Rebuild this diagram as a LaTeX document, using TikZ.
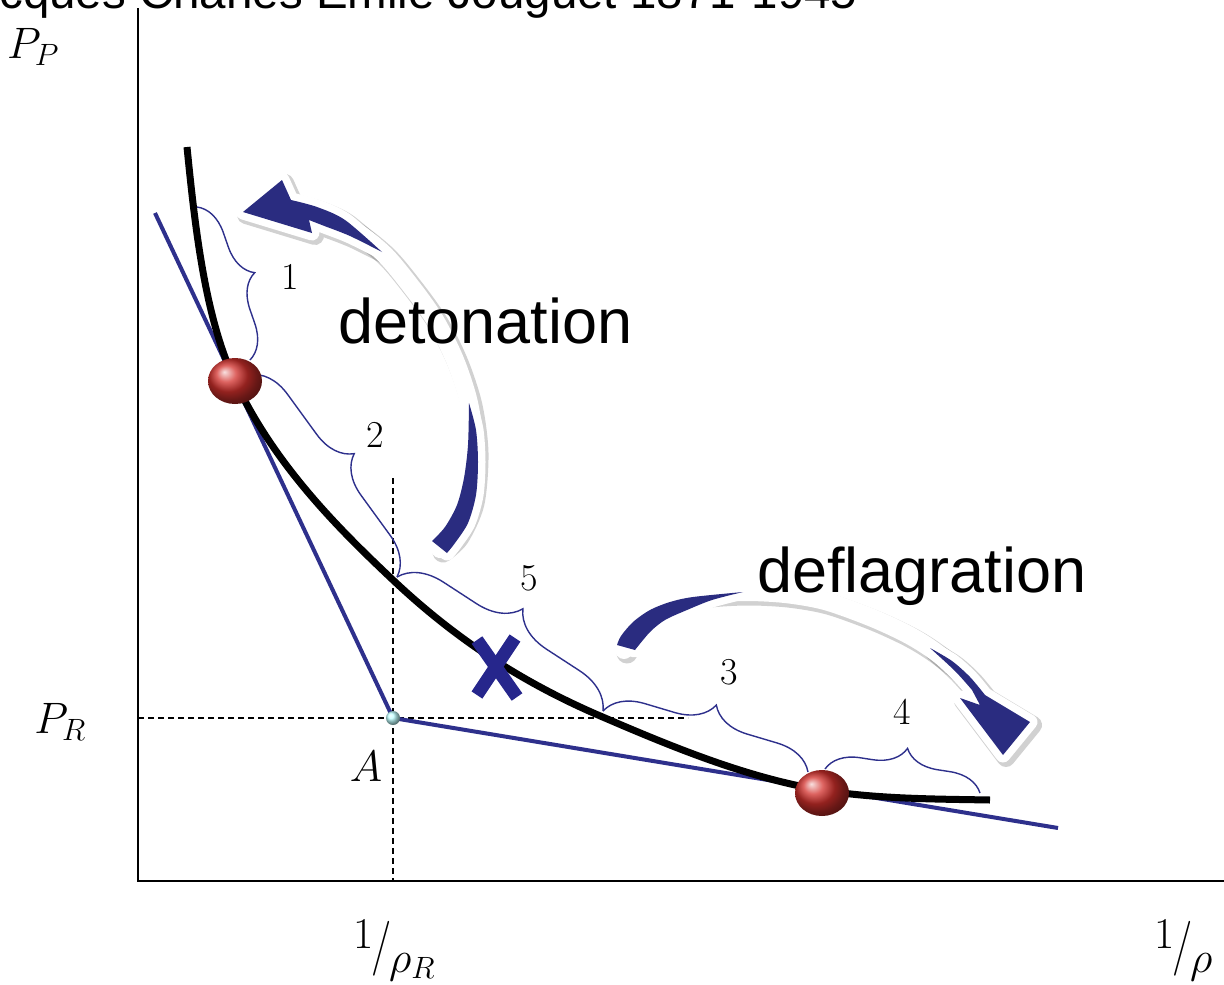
\documentclass[tikz,border=0pt]{standalone}
\usepackage{fix-cm}
\usepackage{fontspec}
\newfontfamily\arialf{Liberation Sans}
\usetikzlibrary{decorations.pathreplacing}
\definecolor{navy}{RGB}{42,44,128}
\definecolor{xblue}{RGB}{38,38,140}
\definecolor{lineblue}{RGB}{46,48,140}
\definecolor{ballred}{RGB}{210,48,44}
\begin{document}
\begin{tikzpicture}[x=1pt,y=-1pt,
  axis/.style={line width=1.8pt, black},
  guide/.style={dash pattern=on 6pt off 4pt, line width=1.3pt, black},
  tangent/.style={line width=4pt, lineblue, line join=round},
  hug/.style={line width=7pt, black},
  brc/.style={decorate, decoration={brace, amplitude=#1}, lineblue, line width=1.4pt},
  numlab/.style={font=\fontsize{38}{40}\selectfont, inner sep=0},
  mathlab/.style={font=\fontsize{44}{48}\selectfont, inner sep=0},
  bigword/.style={font=\arialf\fontsize{63}{70}\selectfont, anchor=base west, inner sep=0},
  halo/.style={white, line width=18pt, line cap=round, line join=round},
  haloshadow/.style={black, opacity=0.18, line width=21pt, line cap=round, line join=round},
  headhalo/.style={white, line width=15pt, line join=round},
  headshadow/.style={black, opacity=0.18, line width=18pt, line join=round}
]
\useasboundingbox (0,0) rectangle (1224,985);
\clip (0,0) rectangle (1224,985);
\fill[white] (0,0) rectangle (1224,985);

% title (cut off at top, as in the original slide)
\node[font=\arialf\fontsize{47.5}{52}\selectfont, anchor=base west, inner sep=0] (title) at (-51,9) {Jacques Charles Emile Jouguet 1871-1945};

% axes
\coordinate (O) at (138,881);
\coordinate (Ytop) at (138,8);
\coordinate (Xend) at (1226,881);
\draw[axis] (Ytop) -- (O) -- (Xend);

% guides
\coordinate (A) at (393,718);
\coordinate (Vtop) at (393,478);
\coordinate (Vbot) at (393,881);
\coordinate (Hleft) at (138,718);
\coordinate (Hright) at (688,718);
\draw[guide] (Vtop) -- (Vbot);
\draw[guide] (Hleft) -- (Hright);

% tangent (Rayleigh) lines
\coordinate (T1) at (155,213);
\coordinate (T2) at (1058,828);
\draw[tangent] (T1) -- (A) -- (T2);

% Hugoniot curve
\draw[hug] (187,147) .. controls (195,227) and (205,318) .. (235,381)
  .. controls (275,466) and (340,530) .. (393,580)
  .. controls (464,647) and (534,688) .. (605,718)
  .. controls (677,749) and (749,778) .. (821,790)
  .. controls (877,799) and (934,799) .. (990,800);

% braces
\coordinate (b1s) at (197,207);
\coordinate (b1e) at (250,360);
\coordinate (b2s) at (250,375);
\coordinate (b2e) at (397,577);
\coordinate (b5e) at (603,711);
\coordinate (b3e) at (808,772);
\coordinate (b4s) at (825,769);
\coordinate (b4e) at (980,793);
\draw[brc=33pt] (b1s) -- (b1e);
\draw[brc=38pt] (b2s) -- (b2e);
\draw[brc=42pt] (b2e) -- (b5e);
\draw[brc=38pt] (b5e) -- (b3e);
\draw[brc=33pt] (b4s) -- (b4e);

\node[numlab] (n1) at (290,277) {1};
\node[numlab] (n2) at (375,435) {2};
\node[numlab] (n5) at (529,578) {5};
\node[numlab] (n3) at (729,672) {3};
\node[numlab] (n4) at (902,712) {4};

% X mark
\coordinate (xa1) at (477,640);
\coordinate (xa2) at (517,697);
\coordinate (xb1) at (515,638);
\coordinate (xb2) at (477,695);
\draw[xblue, line width=13pt] (xa1) -- (xa2);
\draw[xblue, line width=13pt] (xb1) -- (xb2);

% detonation arrow
\def\detmid{plot[smooth] coordinates {(300,214) (345,225) (382,252) (410,285) (435,320) (455,360) (469,403) (475,450) (471,500) (456,534) (440,549)}}
\def\dethead{(243,212) -- (282,180) -- (291,200) -- plot[smooth] coordinates {(291,200) (317,207) (345,220) (382,252)} -- plot[smooth] coordinates {(382,252) (350,236) (327,227)} -- (309,220) -- (312,233) -- cycle}
\def\dettail{(469,403) -- plot[smooth] coordinates {(469,403) (476,430) (478,462) (476,495) (468,523) (455,543) (447,553)} -- (432,541) -- plot[smooth] coordinates {(432,541) (445,527) (457,505) (464,478) (468,445) (469,403)} -- cycle}
\begin{scope}[shift={(3,3)}]
\draw[haloshadow] \detmid;
\draw[headshadow] \dethead;
\end{scope}
\draw[halo] \detmid;
\draw[headhalo] \dethead;
\draw[headhalo] \dettail;
\fill[navy] \dethead;
\fill[navy] \dettail;

% deflagration arrow
\def\defmid{plot[smooth] coordinates {(624,650) (638,624) (662,605) (700,595) (743,592) (785,594) (825,601) (870,617) (905,633) (930,648) (958,670) (978,695)}}
\def\defhead{(930,648) -- plot[smooth] coordinates {(930,648) (952,661) (970,677) (985,695)} -- (1030,722) -- (1003,755) -- (960,698) -- (980,705) -- (972,690) -- plot[smooth] coordinates {(972,690) (955,671) (930,648)} -- cycle}
\def\deftail{(617,645) -- plot[smooth] coordinates {(617,645) (621,636) (633,622) (650,610) (670,602) (693,597) (743,592)} -- plot[smooth] coordinates {(743,592) (712,600) (687,610) (665,620) (650,632) (635,650)} -- cycle}
\begin{scope}[shift={(3,3)}]
\draw[haloshadow] \defmid;
\draw[headshadow] \defhead;
\end{scope}
\draw[halo] \defmid;
\draw[headhalo] \defhead;
\draw[headhalo] \deftail;
\fill[navy] \defhead;
\fill[navy] \deftail;

% words
\node[bigword] (detw) at (338,343) {detonation};
\node[bigword] (defw) at (757,592) {deflagration};

% CJ points and A
\coordinate (CJu) at (235,381);
\coordinate (CJl) at (822,793);
\shade[ball color=ballred] (CJu) ellipse (27pt and 23pt);
\shade[ball color=ballred] (CJl) ellipse (27pt and 23pt);
\shade[ball color=cyan!25!white] (A) circle (7pt);

% axis labels
\node[mathlab] (PP) at (33,47) {$P_P$};
\node[mathlab] (PR) at (60,722) {$P_R$};
\node[mathlab] (Alab) at (366,766) {$A$};
\node[mathlab, anchor=base west] (vR) at (353,948) {$1\kern-0.05em\raisebox{-0.32em}{\scalebox{1}[1.25]{$/$}}\kern-0.05em\raisebox{-0.55em}{$\rho_R$}$};
\node[mathlab, anchor=base west] (v) at (1154,948) {$1\kern-0.05em\raisebox{-0.32em}{\scalebox{1}[1.25]{$/$}}\kern-0.05em\raisebox{-0.55em}{$\rho$}$};
\end{tikzpicture}
\end{document}
